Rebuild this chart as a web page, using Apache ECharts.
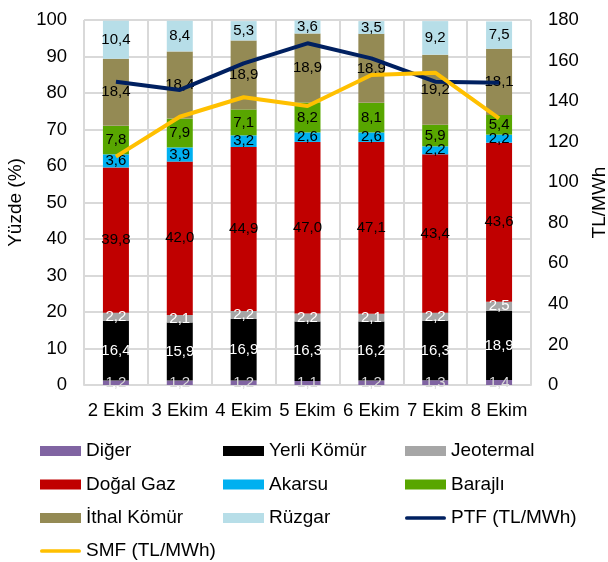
<!DOCTYPE html>
<html>
<head>
<meta charset="utf-8">
<script src="https://cdn.jsdelivr.net/npm/echarts@6/dist/echarts.min.js"></script>
<style>
html,body{margin:0;padding:0;background:#fff;}
#main{width:608px;height:562px;}
</style>
</head>
<body>
<div id="main"></div>
<script>
var days = ['2 Ekim','3 Ekim','4 Ekim','5 Ekim','6 Ekim','7 Ekim','8 Ekim'];
var diger = [1.2,1.2,1.2,1.1,1.2,1.3,1.4];
var yerliKomur = [16.4,15.9,16.9,16.3,16.2,16.3,18.9];
var jeotermal = [2.2,2.1,2.2,2.2,2.1,2.2,2.5];
var dogalGaz = [39.8,42.0,44.9,47.0,47.1,43.4,43.6];
var akarsu = [3.6,3.9,3.2,2.6,2.6,2.2,2.2];
var barajli = [7.8,7.9,7.1,8.2,8.1,5.9,5.4];
var ithalKomur = [18.4,18.4,18.9,18.9,18.9,19.2,18.1];
var ruzgar = [10.4,8.4,5.3,3.6,3.5,9.2,7.5];
var ptf = [149.6,145.5,158.6,168.5,161.1,149.6,149.1];
var smf = [112.6,132.3,141.9,137.6,152.9,154.0,131.5];

var fontFam = 'Liberation Sans, Arial, sans-serif';
var lineIcon = 'path://M2,0 L42,0 A2,2 0 0 1 42,4 L2,4 A2,2 0 0 1 2,0 Z';

function barSeries(name, data, color, labelColor) {
    return {
        name: name,
        type: 'bar',
        stack: 'toplam',
        barWidth: 26,
        data: data,
        itemStyle: {color: color},
        label: {
            show: true,
            position: 'inside',
            fontSize: 15,
            fontFamily: fontFam,
            color: labelColor,
            formatter: function (p) { return p.value.toFixed(1).replace('.', ','); }
        }
    };
}

var legendText = {fontSize: 19, fontFamily: fontFam, color: '#000', lineHeight: 20};
function legendCol(left, top, names) {
    return {
        left: left, top: top, orient: 'vertical', itemGap: 13.5, padding: 0,
        itemWidth: 41, itemHeight: 10, textStyle: legendText,
        data: names.map(function (n) {
            return n.indexOf('TL/MWh') >= 0 ? {name: n, icon: lineIcon} : {name: n, icon: 'rect'};
        })
    };
}

var myChart = echarts.init(document.getElementById('main'));
var option = {
    animation: false,
    grid: {left: 84, right: 77, top: 20, bottom: 177, outerBoundsMode: 'none'},
    legend: [
        legendCol(40, 441, ['Diğer','Doğal Gaz','İthal Kömür']),
        legendCol(40, 541, ['SMF (TL/MWh)']),
        legendCol(223, 441, ['Yerli Kömür','Akarsu','Rüzgar']),
        legendCol(405, 441, ['Jeotermal','Barajlı','PTF (TL/MWh)'])
    ],
    xAxis: {
        type: 'category',
        data: days,
        axisLine: {lineStyle: {color: '#d9d9d9', width: 2}},
        axisTick: {show: false},
        splitLine: {show: true, lineStyle: {color: '#d9d9d9', width: 2}},
        axisLabel: {fontSize: 18.5, fontFamily: fontFam, color: '#000', margin: 16, interval: 0}
    },
    yAxis: [
        {
            type: 'value', min: 0, max: 100, interval: 10,
            name: 'Yüzde (%)', nameLocation: 'middle', nameGap: 52, nameRotate: 90,
            nameTextStyle: {fontSize: 19, fontFamily: fontFam, color: '#000'},
            axisLine: {show: false}, axisTick: {show: false},
            splitLine: {lineStyle: {color: '#d9d9d9', width: 2}},
            axisLabel: {fontSize: 18.5, fontFamily: fontFam, color: '#000', margin: 17}
        },
        {
            type: 'value', min: 0, max: 180, interval: 20,
            name: 'TL/MWh', nameLocation: 'middle', nameGap: 58, nameRotate: 90,
            nameTextStyle: {fontSize: 19, fontFamily: fontFam, color: '#000'},
            axisLine: {show: false}, axisTick: {show: false},
            splitLine: {show: false},
            axisLabel: {fontSize: 18.5, fontFamily: fontFam, color: '#000', margin: 17}
        }
    ],
    series: [
        barSeries('Diğer', diger, '#8064A2', '#d9d9d9'),
        barSeries('Yerli Kömür', yerliKomur, '#000000', '#ffffff'),
        barSeries('Jeotermal', jeotermal, '#A6A6A6', '#ffffff'),
        barSeries('Doğal Gaz', dogalGaz, '#C00000', '#000'),
        barSeries('Akarsu', akarsu, '#00B0F0', '#000'),
        barSeries('Barajlı', barajli, '#58A600', '#000'),
        barSeries('İthal Kömür', ithalKomur, '#948A54', '#000'),
        barSeries('Rüzgar', ruzgar, '#B7DEE8', '#000'),
        {
            name: 'PTF (TL/MWh)', type: 'line', yAxisIndex: 1, data: ptf,
            symbol: 'none', lineStyle: {color: '#002060', width: 4}, itemStyle: {color: '#002060'}
        },
        {
            name: 'SMF (TL/MWh)', type: 'line', yAxisIndex: 1, data: smf,
            symbol: 'none', lineStyle: {color: '#FFC000', width: 4}, itemStyle: {color: '#FFC000'}
        }
    ]
};
myChart.setOption(option);
</script>
</body>
</html>
